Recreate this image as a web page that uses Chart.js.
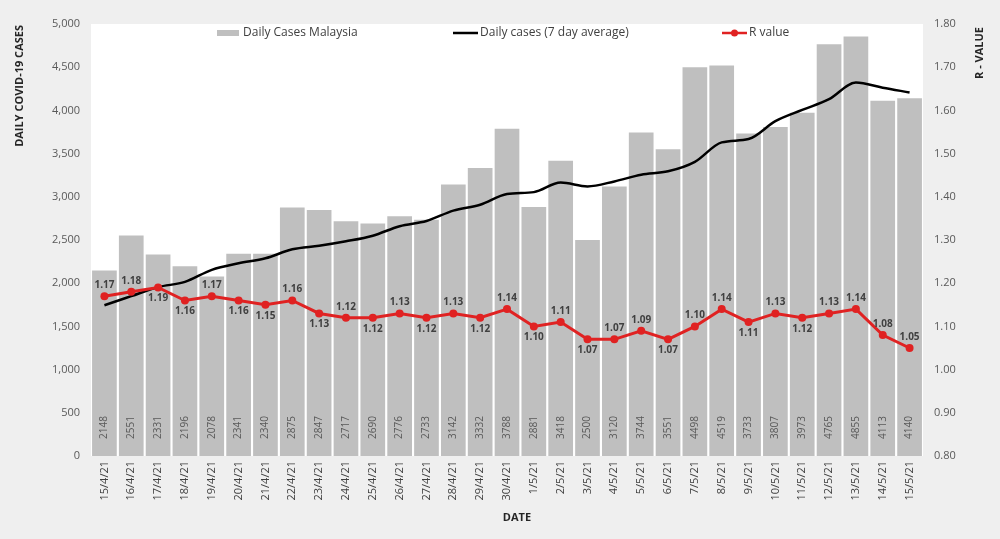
<!DOCTYPE html>
<html>
<head>
<meta charset="utf-8">
<script src="https://cdn.jsdelivr.net/npm/chart.js@4.4.0/dist/chart.umd.min.js"></script>
<style>
  body { margin: 0; background: #efefef; }
  #wrap { width: 1000px; height: 539px; position: relative; }
</style>
</head>
<body>
<div id="wrap"><canvas id="myChart"></canvas></div>
<script>
var dates = ['15/4/21','16/4/21','17/4/21','18/4/21','19/4/21','20/4/21','21/4/21','22/4/21',
  '23/4/21','24/4/21','25/4/21','26/4/21','27/4/21','28/4/21','29/4/21','30/4/21',
  '1/5/21','2/5/21','3/5/21','4/5/21','5/5/21','6/5/21','7/5/21','8/5/21',
  '9/5/21','10/5/21','11/5/21','12/5/21','13/5/21','14/5/21','15/5/21'];

var dailyCases = [2148,2551,2331,2196,2078,2341,2340,2875,2847,2717,2690,2776,2733,3142,3332,3788,
  2881,3418,2500,3120,3744,3551,4498,4519,3733,3807,3973,4765,4855,4113,4140];

var avgCases = [1745,1850,1955,2015,2155,2230,2288,2392,2433,2485,2550,2660,2720,2840,2908,3032,
  3054,3165,3120,3178,3255,3295,3405,3630,3668,3875,4005,4130,4322,4262,4208];

var rValue = [1.17,1.18,1.19,1.16,1.17,1.16,1.15,1.16,1.13,1.12,1.12,1.13,1.12,1.13,1.12,1.14,
  1.10,1.11,1.07,1.07,1.09,1.07,1.10,1.14,1.11,1.13,1.12,1.13,1.14,1.08,1.05];

// where the R label sits: a = above the point, b = below
var rLabelSide = ['a','a','b','b','a','b','b','a','b','a','b','a','b','a','b','a',
  'b','a','b','a','a','b','a','a','b','a','b','a','a','a','a'];

var leftTicks = [0,500,1000,1500,2000,2500,3000,3500,4000,4500,5000];
var rightTicks = [0.8,0.9,1.0,1.1,1.2,1.3,1.4,1.5,1.6,1.7,1.8];

var FONT = '"Open Sans", "Liberation Sans", sans-serif';
var GREY = '#bfbfbf';
var RED = '#e02222';
var TXT = '#595959';

var extras = {
  id: 'extras',
  beforeDraw: function(chart) {
    var c = chart.ctx, a = chart.chartArea;
    c.save();
    c.fillStyle = '#efefef';
    c.fillRect(0, 0, chart.width, chart.height);
    c.fillStyle = '#ffffff';
    c.fillRect(a.left, a.top, a.right - a.left, a.bottom - a.top);
    c.restore();
  },
  afterDatasetsDraw: function(chart) {
    var c = chart.ctx, a = chart.chartArea;
    c.save();
    // values inside bars
    var bars = chart.getDatasetMeta(2).data;
    c.font = '10px ' + FONT;
    c.fillStyle = TXT;
    c.textAlign = 'left';
    c.textBaseline = 'middle';
    bars.forEach(function(b, i) {
      c.save();
      c.translate(b.x, a.bottom - 17);
      c.rotate(-Math.PI / 2);
      c.fillText(String(dailyCases[i]), 0, 0);
      c.restore();
    });
    // R value labels
    var pts = chart.getDatasetMeta(0).data;
    c.font = 'bold 10px ' + FONT;
    c.fillStyle = '#404040';
    c.textAlign = 'center';
    pts.forEach(function(p, i) {
      var dy = rLabelSide[i] === 'a' ? -11 : 11;
      c.fillText(rValue[i].toFixed(2), p.x, p.y + dy);
    });
    c.restore();
  },
  afterDraw: function(chart) {
    var c = chart.ctx, a = chart.chartArea;
    c.save();
    // legend
    var ly = a.top + 9;
    c.font = '12px ' + FONT;
    c.fillStyle = '#404040';
    c.textAlign = 'left';
    c.textBaseline = 'middle';
    c.fillStyle = GREY;
    c.fillRect(217, ly - 3, 22, 6);
    c.fillStyle = '#404040';
    c.fillText('Daily Cases Malaysia', 243, ly);
    c.strokeStyle = '#000';
    c.lineWidth = 2.5;
    c.beginPath(); c.moveTo(453, ly); c.lineTo(478, ly); c.stroke();
    c.fillText('Daily cases (7 day average)', 480, ly);
    c.strokeStyle = RED;
    c.beginPath(); c.moveTo(722, ly); c.lineTo(747, ly); c.stroke();
    c.fillStyle = RED;
    c.beginPath(); c.arc(734.5, ly, 3.5, 0, Math.PI * 2); c.fill();
    c.fillStyle = '#404040';
    c.fillText('R value', 749, ly);

    // axis titles
    c.font = 'bold 11px ' + FONT;
    c.fillStyle = '#262626';
    c.save();
    c.translate(20, 25);
    c.rotate(-Math.PI / 2);
    c.textAlign = 'right';
    c.fillText('DAILY COVID-19 CASES', 0, 0);
    c.restore();
    c.save();
    c.translate(980, 27);
    c.rotate(-Math.PI / 2);
    c.textAlign = 'right';
    c.fillText('R - VALUE', 0, 0);
    c.restore();
    c.textAlign = 'center';
    c.fillText('DATE', 517, 518);
    c.restore();
  }
};

var ctx = document.getElementById('myChart');

var graphique = new Chart(ctx.getContext('2d'), {
  type: 'bar',
  data: {
    labels: dates,
    datasets: [{
      type: 'line',
      label: 'R value',
      data: rValue,
      yAxisID: 'yR',
      borderColor: RED,
      backgroundColor: RED,
      borderWidth: 3,
      pointRadius: 4,
      pointBackgroundColor: RED,
      pointBorderWidth: 0,
      tension: 0,
      order: 0
    }, {
      type: 'line',
      label: 'Daily cases (7 day average)',
      data: avgCases,
      yAxisID: 'y',
      borderColor: '#000',
      borderWidth: 2.5,
      pointRadius: 0,
      cubicInterpolationMode: 'monotone',
      order: 1
    }, {
      type: 'bar',
      label: 'Daily Cases Malaysia',
      data: dailyCases,
      yAxisID: 'y',
      backgroundColor: GREY,
      barPercentage: 0.92,
      categoryPercentage: 1,
      order: 2
    }]
  },
  options: {
    responsive: true,
    maintainAspectRatio: false,
    animation: false,
    layout: { padding: { top: 24, left: 0, right: 0, bottom: 0 } },
    plugins: {
      legend: { display: false },
      tooltip: { enabled: false }
    },
    scales: {
      x: {
        grid: { display: false, drawTicks: false },
        border: { display: false },
        ticks: {
          color: '#404040',
          font: { family: FONT, size: 11 },
          minRotation: 90,
          maxRotation: 90,
          padding: 5,
          autoSkip: false
        },
        afterFit: function(s) { s.height = 83; }
      },
      y: {
        position: 'left',
        min: 0,
        max: 5000,
        afterBuildTicks: function(s) { s.ticks = leftTicks.map(function(v) { return { value: v }; }); },
        grid: { display: false, drawTicks: false },
        border: { display: false },
        ticks: {
          color: TXT,
          font: { family: FONT, size: 11 },
          padding: 11,
          callback: function(v) { return v.toLocaleString('en-US'); }
        },
        afterFit: function(s) { s.width = 91; }
      },
      yR: {
        position: 'right',
        min: 0.8,
        max: 1.8,
        afterBuildTicks: function(s) { s.ticks = rightTicks.map(function(v) { return { value: v }; }); },
        grid: { display: false, drawTicks: false },
        border: { display: false },
        ticks: {
          color: TXT,
          font: { family: FONT, size: 11 },
          padding: 11,
          callback: function(v) { return Number(v).toFixed(2); }
        },
        afterFit: function(s) { s.width = 77; }
      }
    }
  },
  plugins: [extras]
});
</script>
</body>
</html>
